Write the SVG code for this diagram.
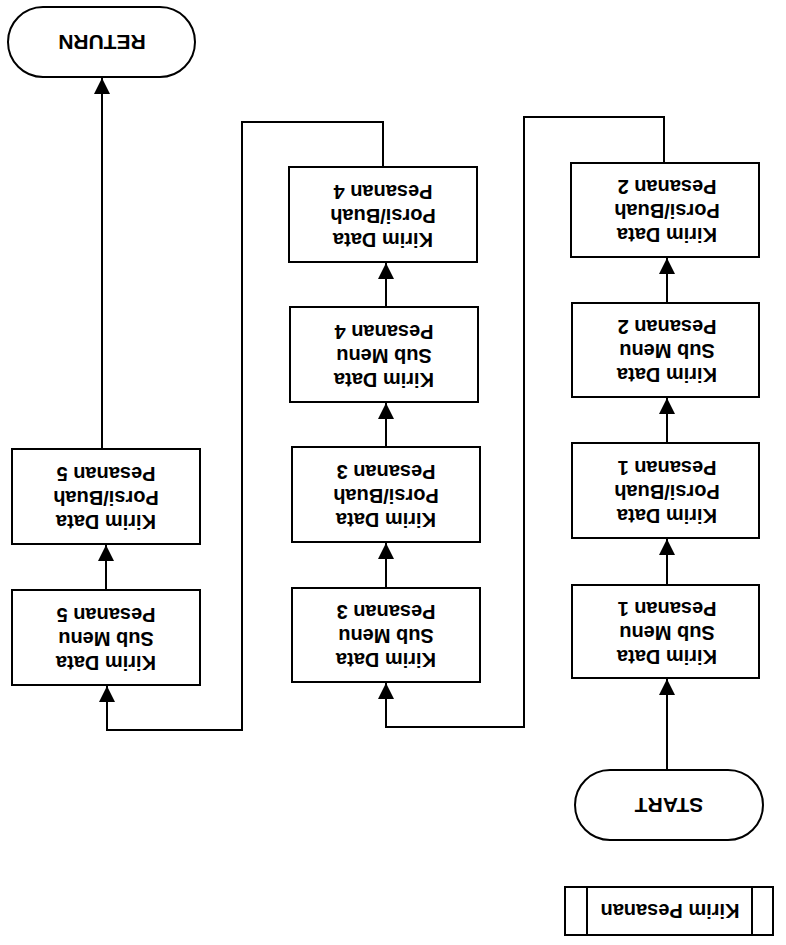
<svg xmlns="http://www.w3.org/2000/svg" width="786" height="945" viewBox="0 0 786 945">
  <style>
    .box { fill: #fff; stroke: #000; stroke-width: 2; }
    .lbl { font-family: "Liberation Sans", Arial, sans-serif; font-weight: bold; font-size: 20px; text-anchor: middle; fill: #000; }
    .term { font-size: 21px; }
    .wire { fill: none; stroke: #000; stroke-width: 2; marker-end: url(#head); }
  </style>
  <defs>
    <marker id="head" markerUnits="userSpaceOnUse" markerWidth="16" markerHeight="16" refX="16" refY="8" orient="auto">
      <path d="M0,0 L16,8 L0,16 Z" fill="#000"/>
    </marker>
  </defs>
  <rect width="786" height="945" fill="#fff"/>

  <!-- connectors -->
  <g id="connectors">
    <path class="wire" d="M667,770 V679"/>
    <path class="wire" d="M667,585 V539"/>
    <path class="wire" d="M667,443 V398"/>
    <path class="wire" d="M667,303 V258"/>
    <path class="wire" d="M664,163 V117 H524 V727 H386 V683"/>
    <path class="wire" d="M386,588 V543"/>
    <path class="wire" d="M386,447 V403"/>
    <path class="wire" d="M386,307 V263"/>
    <path class="wire" d="M383,167 V122 H242 V730 H107 V686"/>
    <path class="wire" d="M106,590 V545"/>
    <path class="wire" d="M102,449 V78"/>
  </g>

  <!-- terminators -->
  <g id="return">
    <rect class="box" x="8" y="7" width="187" height="70" rx="35" ry="35"/>
    <text class="lbl term" transform="rotate(180 102 42)" x="102" y="49.5">RETURN</text>
  </g>
  <g id="start">
    <rect class="box" x="575" y="770" width="188" height="70" rx="35" ry="35"/>
    <text class="lbl term" transform="rotate(180 669 805)" x="669" y="812.5">START</text>
  </g>

  <!-- predefined process -->
  <g id="kirim-pesanan">
    <rect class="box" x="565" y="887" width="208" height="48"/>
    <line x1="587" y1="887" x2="587" y2="935" stroke="#000" stroke-width="2"/>
    <line x1="752" y1="887" x2="752" y2="935" stroke="#000" stroke-width="2"/>
    <text class="lbl" transform="rotate(180 670 911)" x="670" y="918">Kirim Pesanan</text>
  </g>

  <!-- column 3 -->
  <g id="sub-menu-1">
    <rect class="box" x="572" y="585" width="187" height="93"/>
    <g transform="rotate(180 667 633)">
      <text class="lbl" x="667" y="616">Kirim Data</text>
      <text class="lbl" x="667" y="640">Sub Menu</text>
      <text class="lbl" x="667" y="664">Pesanan 1</text>
    </g>
  </g>
  <g id="porsi-1">
    <rect class="box" x="572" y="443" width="187" height="95"/>
    <g transform="rotate(180 667 492)">
      <text class="lbl" x="667" y="475">Kirim Data</text>
      <text class="lbl" x="667" y="499">Porsi/Buah</text>
      <text class="lbl" x="667" y="523">Pesanan 1</text>
    </g>
  </g>
  <g id="sub-menu-2">
    <rect class="box" x="572" y="303" width="187" height="94"/>
    <g transform="rotate(180 667 351)">
      <text class="lbl" x="667" y="334">Kirim Data</text>
      <text class="lbl" x="667" y="358">Sub Menu</text>
      <text class="lbl" x="667" y="382">Pesanan 2</text>
    </g>
  </g>
  <g id="porsi-2">
    <rect class="box" x="571" y="163" width="188" height="94"/>
    <g transform="rotate(180 667 211)">
      <text class="lbl" x="667" y="194">Kirim Data</text>
      <text class="lbl" x="667" y="218">Porsi/Buah</text>
      <text class="lbl" x="667" y="242">Pesanan 2</text>
    </g>
  </g>

  <!-- column 2 -->
  <g id="sub-menu-3">
    <rect class="box" x="292" y="588" width="188" height="94"/>
    <g transform="rotate(180 386 636)">
      <text class="lbl" x="386" y="619">Kirim Data</text>
      <text class="lbl" x="386" y="643">Sub Menu</text>
      <text class="lbl" x="386" y="667">Pesanan 3</text>
    </g>
  </g>
  <g id="porsi-3">
    <rect class="box" x="292" y="447" width="188" height="95"/>
    <g transform="rotate(180 386 496)">
      <text class="lbl" x="386" y="479">Kirim Data</text>
      <text class="lbl" x="386" y="503">Porsi/Buah</text>
      <text class="lbl" x="386" y="527">Pesanan 3</text>
    </g>
  </g>
  <g id="sub-menu-4">
    <rect class="box" x="290" y="307" width="188" height="95"/>
    <g transform="rotate(180 384 356)">
      <text class="lbl" x="384" y="339">Kirim Data</text>
      <text class="lbl" x="384" y="363">Sub Menu</text>
      <text class="lbl" x="384" y="387">Pesanan 4</text>
    </g>
  </g>
  <g id="porsi-4">
    <rect class="box" x="289" y="167" width="188" height="95"/>
    <g transform="rotate(180 383 216)">
      <text class="lbl" x="383" y="199">Kirim Data</text>
      <text class="lbl" x="383" y="223">Porsi/Buah</text>
      <text class="lbl" x="383" y="247">Pesanan 4</text>
    </g>
  </g>

  <!-- column 1 -->
  <g id="sub-menu-5">
    <rect class="box" x="12" y="590" width="188" height="95"/>
    <g transform="rotate(180 106 639)">
      <text class="lbl" x="106" y="622">Kirim Data</text>
      <text class="lbl" x="106" y="646">Sub Menu</text>
      <text class="lbl" x="106" y="670">Pesanan 5</text>
    </g>
  </g>
  <g id="porsi-5">
    <rect class="box" x="12" y="449" width="188" height="95"/>
    <g transform="rotate(180 106 498)">
      <text class="lbl" x="106" y="481">Kirim Data</text>
      <text class="lbl" x="106" y="505">Porsi/Buah</text>
      <text class="lbl" x="106" y="529">Pesanan 5</text>
    </g>
  </g>
</svg>
